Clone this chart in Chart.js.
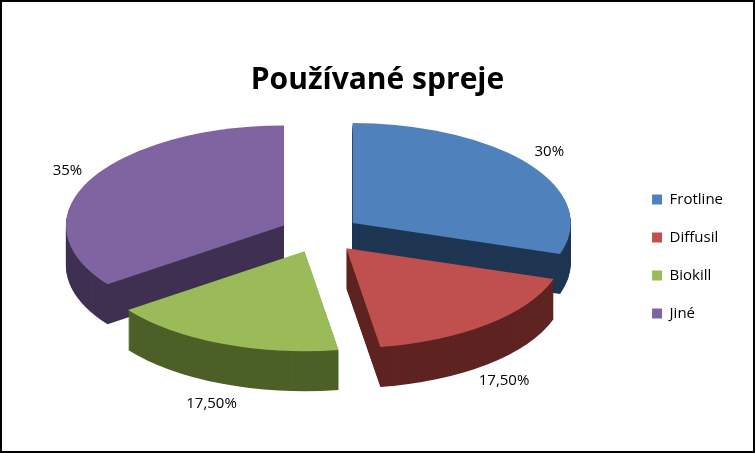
<!DOCTYPE html>
<html>
<head>
<meta charset="utf-8">
<script src="https://cdn.jsdelivr.net/npm/chart.js@4/dist/chart.umd.min.js"></script>
<style>
  html, body { margin: 0; padding: 0; background: #fff; }
  #wrap { width: 755px; height: 453px; box-sizing: border-box; border: 2px solid #000; }
</style>
</head>
<body>
<div id="wrap"><canvas id="pie"></canvas></div>
<script>
const categories = ['Frotline', 'Diffusil', 'Biokill', 'Jiné'];
const shares = [30, 17.5, 17.5, 35];
const colors = ['#4F81BD', '#C0504D', '#9BBB59', '#8064A2'];
const sideColors = ['#1F3653', '#5E2422', '#4C6028', '#3F3152'];

// where the tilted pie sits on the page
const CX = 318, CY = 232, RX = 218, RY = 100, DEPTH = 40;

function fmt(v) {
  return (v % 1 ? v.toFixed(2).replace('.', ',') : String(v)) + '%';
}

function sliceAt(ctx, a, dy, fill) {
  const R = a.outerRadius;
  const off = a.options.offset;
  const mid = (a.startAngle + a.endAngle) / 2;
  ctx.save();
  ctx.translate(CX, CY + dy);
  ctx.scale(RX / R, RY / R);
  const ox = Math.cos(mid) * off, oy = Math.sin(mid) * off;
  ctx.beginPath();
  ctx.moveTo(ox, oy);
  ctx.arc(ox, oy, R, a.startAngle, a.endAngle);
  ctx.closePath();
  ctx.fillStyle = fill;
  ctx.fill();
  ctx.restore();
}

const tilt = {
  id: 'tilt',
  beforeDatasetsDraw(chart) {
    const ctx = chart.ctx;
    const arcs = chart.getDatasetMeta(0).data;
    for (let d = DEPTH; d > 0; d -= 1) {
      arcs.forEach((a, i) => sliceAt(ctx, a, d, sideColors[i]));
    }
    arcs.forEach((a, i) => sliceAt(ctx, a, 0, colors[i]));

    ctx.save();
    ctx.font = '15px "Open Sans", sans-serif';
    ctx.fillStyle = '#000';
    ctx.textAlign = 'center';
    ctx.textBaseline = 'middle';
    arcs.forEach((a, i) => {
      const mid = (a.startAngle + a.endAngle) / 2;
      const x = CX + Math.cos(mid) * RX * 1.3;
      let y = CY + Math.sin(mid) * RY * 1.4;
      if (Math.sin(mid) > 0) y += DEPTH;
      ctx.fillText(fmt(shares[i]), x, y);
    });
    ctx.restore();
    return false;
  }
};

new Chart(document.getElementById('pie'), {
  type: 'pie',
  data: {
    labels: categories,
    datasets: [{
      data: shares,
      backgroundColor: colors,
      borderWidth: 0,
      offset: 30
    }]
  },
  options: {
    responsive: true,
    maintainAspectRatio: false,
    animation: false,
    layout: { padding: { top: 60, right: 20, left: 20, bottom: 0 } },
    plugins: {
      title: {
        display: true,
        text: 'Používané spreje',
        color: '#000',
        font: { family: '"Open Sans", sans-serif', size: 30, weight: 'bold' },
        padding: { top: 0, bottom: 0 }
      },
      legend: {
        position: 'right',
        labels: {
          color: '#000',
          font: { family: '"Open Sans", sans-serif', size: 15 },
          boxWidth: 10, boxHeight: 10,
          padding: 23
        }
      },
      tooltip: { enabled: false }
    }
  },
  plugins: [tilt]
});
</script>
</body>
</html>
